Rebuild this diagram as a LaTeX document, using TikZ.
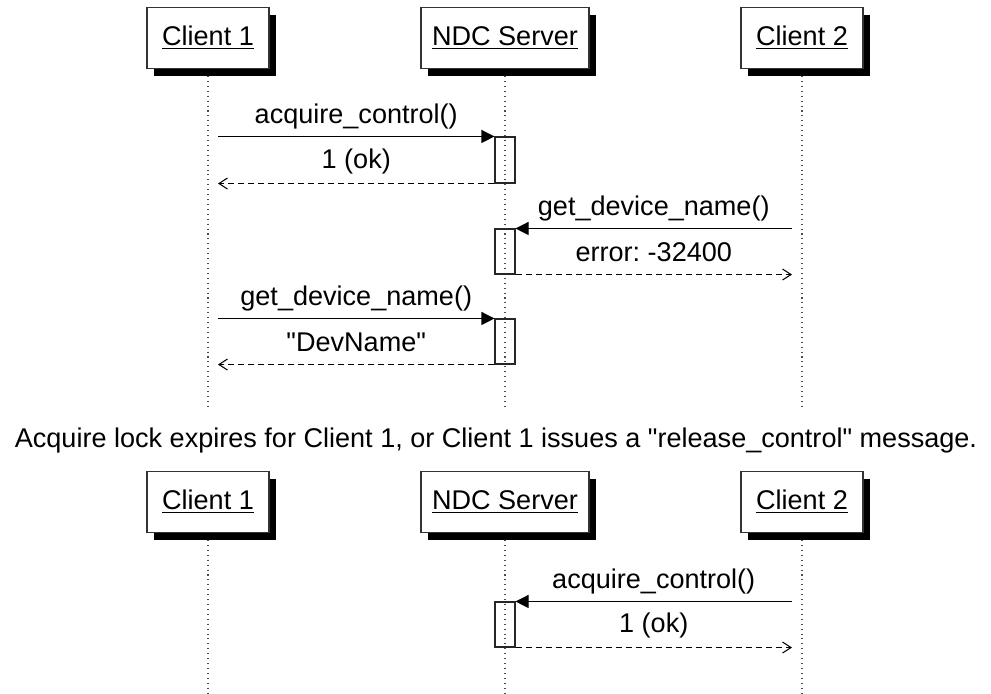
\documentclass[tikz,border=0pt]{standalone}
\usepackage{fontspec}
\setmainfont{Liberation Sans}
\usepackage{tikz}
\usetikzlibrary{arrows.meta,positioning,calc,shadows}
\frenchspacing

\begin{document}
\begin{tikzpicture}[
  font=\fontsize{15.4pt}{18pt}\selectfont,
  actor/.style={draw=black!80, fill=white, line width=0.6pt, minimum height=1.22cm, inner sep=2pt,
    drop shadow={shadow xshift=0.14cm, shadow yshift=-0.14cm, fill=black, opacity=1}},
  actbox/.style={draw=black!85, line width=0.6pt, minimum width=0.4cm, minimum height=0.9cm, inner sep=0pt},
  life/.style={line width=0.6pt, color=black!70, dash pattern=on 0.6pt off 2.2pt},
  call/.style={-{Triangle[length=0.26cm, width=0.26cm]}, line width=0.6pt},
  ret/.style={-{Straight Barb[length=0.17cm, width=0.22cm, line width=0.6pt]}, line width=0.6pt, dash pattern=on 0.12cm off 0.08cm},
  msgl/.style={midway, yshift=0.4cm, inner sep=0pt},
  retl/.style={midway, yshift=0.45cm, inner sep=0pt},
]
\useasboundingbox (0,0) rectangle (19.82,-13.88);

% ─── Part 1: actors (y = -0.76) ───
\node[actor, minimum width=2.44cm] (c1a) at (4.16, -0.76) {\underline{Client 1}};
\node[actor, minimum width=3.36cm] (srva) at (10.10, -0.76) {\underline{NDC Server}};
\node[actor, minimum width=2.44cm] (c2a) at (16.04, -0.76) {\underline{Client 2}};

% lifelines
\coordinate (c1aend) at (4.16, -8.16);
\coordinate (srvaend) at (10.10, -8.16);
\coordinate (c2aend) at (16.04, -8.16);
\draw[life] ([yshift=-0.14cm]c1a.south) -- (c1aend);
\draw[life] ([yshift=-0.14cm]srva.south) -- (srvaend);
\draw[life] ([yshift=-0.14cm]c2a.south) -- (c2aend);

% activation boxes
\node[actbox, minimum height=0.92cm] (act1) at (10.10, -3.20) {};
\node[actbox] (act2) at (10.10, -5.03) {};
\node[actbox] (act3) at (10.10, -6.83) {};

% messages
\draw[call] ([xshift=0.2cm]c1a.center |- act1.north) -- (act1.north west) node[msgl]{acquire\_control()};
\draw[ret] (act1.south west) -- ([xshift=0.2cm]c1a.center |- act1.south) node[retl]{1 (ok)};
\draw[call] ([xshift=-0.2cm]c2a.center |- act2.north) -- (act2.north east) node[msgl]{get\_device\_name()};
\draw[ret] (act2.south east) -- ([xshift=-0.2cm]c2a.center |- act2.south) node[retl]{error: -32400};
\draw[call] ([xshift=0.2cm]c1a.center |- act3.north) -- (act3.north west) node[msgl]{get\_device\_name()};
\draw[ret] (act3.south west) -- ([xshift=0.2cm]c1a.center |- act3.south) node[retl]{\textquotedbl DevName\textquotedbl};

% ─── Note between the parts ───
\node (note) at (9.92, -8.80) {Acquire lock expires for Client 1, or Client 1 issues a \textquotedbl release\_control\textquotedbl\ message.};

% ─── Part 2: actors (y = -10.04) ───
\node[actor, minimum width=2.44cm] (c1b) at (4.16, -10.04) {\underline{Client 1}};
\node[actor, minimum width=3.36cm] (srvb) at (10.10, -10.04) {\underline{NDC Server}};
\node[actor, minimum width=2.44cm] (c2b) at (16.04, -10.04) {\underline{Client 2}};

\coordinate (c1bend) at (4.16, -13.88);
\coordinate (srvbend) at (10.10, -13.88);
\coordinate (c2bend) at (16.04, -13.88);
\draw[life] ([yshift=-0.14cm]c1b.south) -- (c1bend);
\draw[life] ([yshift=-0.14cm]srvb.south) -- (srvbend);
\draw[life] ([yshift=-0.14cm]c2b.south) -- (c2bend);

\node[actbox] (act4) at (10.10, -12.49) {};
\draw[call] ([xshift=-0.2cm]c2b.center |- act4.north) -- (act4.north east) node[msgl]{acquire\_control()};
\draw[ret] (act4.south east) -- ([xshift=-0.2cm]c2b.center |- act4.south) node[retl]{1 (ok)};

\end{tikzpicture}
\end{document}
